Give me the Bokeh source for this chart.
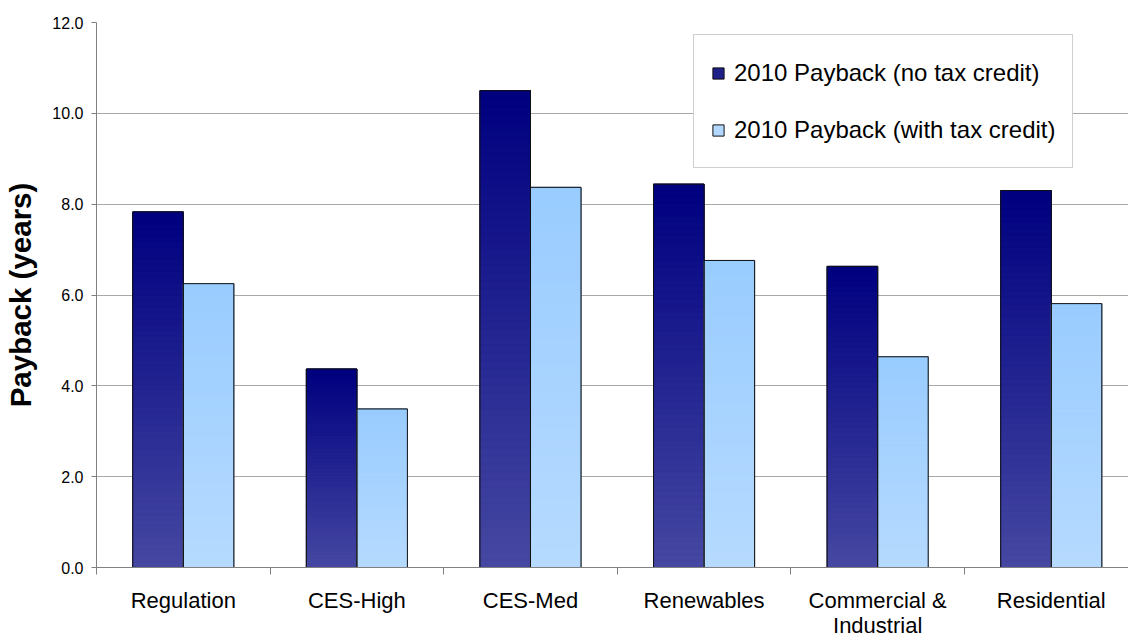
from bokeh.plotting import figure
from bokeh.models import ColumnDataSource, FixedTicker, Legend, LegendItem, Range1d
from bokeh.embed import file_html
from bokeh.resources import INLINE

# ---- data ----
categories = ["Regulation", "CES-High", "CES-Med", "Renewables",
              "Commercial &\nIndustrial", "Residential"]
payback_no_credit = [7.83, 4.37, 10.50, 8.44, 6.63, 8.30]
payback_with_credit = [6.25, 3.49, 8.37, 6.76, 4.64, 5.81]
series_names = ["2010 Payback (no tax credit)", "2010 Payback (with tax credit)"]
y_ticks = [0, 2, 4, 6, 8, 10, 12]
y_tick_labels = ["0.0", "2.0", "4.0", "6.0", "8.0", "10.0", "12.0"]

# ---- styles ----
FONT = "Liberation Sans"
dark_top, dark_bottom = (0x00, 0x00, 0x80), (0x46, 0x48, 0xA2)
light_top, light_bottom = (0x99, 0xCC, 0xFF), (0xB6, 0xDA, 0xFF)
legend_fills = ["#1f1f88", "#b3d8ff"]
bar_w = 0.291
n_steps = 60


def mix(c1, c2, t):
    return "#%02x%02x%02x" % tuple(int(round(a + (b - a) * t)) for a, b in zip(c1, c2))


p = figure(width=1128, height=640, output_backend="svg", toolbar_location=None,
           x_range=Range1d(0, 5.945), y_range=Range1d(0, 12),
           min_border_left=96, min_border_right=0, min_border_top=22, min_border_bottom=72)
p.outline_line_color = None
p.background_fill_color = "white"
p.border_fill_color = "white"

series = [(payback_no_credit, dark_top, dark_bottom),
          (payback_with_credit, light_top, light_bottom)]

grad = dict(left=[], right=[], bottom=[], top=[], color=[])
body_renderers = []
for j, (vals, ctop, cbot) in enumerate(series):
    body = dict(left=[], right=[], top=[])
    for i in range(len(categories)):
        center = i + 0.5
        v = vals[i]
        l = center - bar_w if j == 0 else center
        r = l + bar_w
        body["left"].append(l)
        body["right"].append(r)
        body["top"].append(v)
        for k in range(n_steps):
            grad["left"].append(l)
            grad["right"].append(r)
            grad["bottom"].append(v * k / n_steps)
            grad["top"].append(v * (k + 1) / n_steps)
            grad["color"].append(mix(cbot, ctop, (k + 0.5) / n_steps))
    rb = p.quad(left="left", right="right", bottom=0, top="top", source=ColumnDataSource(body),
                fill_color=legend_fills[j], line_color="#111111", line_width=1)
    body_renderers.append((rb, body))

p.quad(left="left", right="right", bottom="bottom", top="top", fill_color="color",
       line_color="color", line_width=1, source=ColumnDataSource(grad))
for rb, body in body_renderers:
    p.quad(left="left", right="right", bottom=0, top="top", source=ColumnDataSource(body),
           fill_color=None, line_color="#111111", line_width=1)

legend = Legend(items=[LegendItem(label=series_names[j], renderers=[body_renderers[j][0]])
                       for j in range(2)],
                location=(597, 399))
legend.label_text_font = FONT
legend.label_text_font_size = "24px"
legend.label_text_color = "#000000"
legend.glyph_width = 14
legend.glyph_height = 14
legend.label_height = 41
legend.label_standoff = 9
legend.spacing = 16
legend.padding = 17
legend.margin = 0
legend.border_line_color = "#a0a0a0"
legend.border_line_width = 1
legend.background_fill_color = "white"
legend.background_fill_alpha = 1
p.add_layout(legend, "center")

# y axis
p.yaxis.ticker = FixedTicker(ticks=y_ticks)
p.yaxis.major_label_overrides = {t: s for t, s in zip(y_ticks, y_tick_labels)}
p.yaxis.major_label_text_font = FONT
p.yaxis.major_label_text_font_size = "16px"
p.yaxis.major_label_text_color = "#000000"
p.yaxis.axis_line_color = "#808080"
p.yaxis.major_tick_line_color = "#808080"
p.yaxis.major_tick_out = 5
p.yaxis.major_tick_in = 0
p.yaxis.minor_tick_line_color = None
p.yaxis.major_label_standoff = 8
p.yaxis.axis_label = "Payback (years)"
p.yaxis.axis_label_text_font = FONT
p.yaxis.axis_label_text_font_style = "bold"
p.yaxis.axis_label_text_font_size = "29.5px"
p.yaxis.axis_label_text_color = "#000000"
p.yaxis.axis_label_standoff = 12

# x axis
centers = [i + 0.5 for i in range(len(categories))]
bounds = [float(i) for i in range(len(categories) + 1)]
p.xaxis.ticker = FixedTicker(ticks=centers, minor_ticks=bounds)
p.xaxis.major_label_overrides = {c: s for c, s in zip(centers, categories)}
p.xaxis.major_label_text_font = FONT
p.xaxis.major_label_text_font_size = "22px"
p.xaxis.major_label_text_line_height = 1.0
p.xaxis.major_label_text_color = "#000000"
p.xaxis.axis_line_color = "#808080"
p.xaxis.major_tick_line_color = None
p.xaxis.major_tick_out = 0
p.xaxis.major_tick_in = 0
p.xaxis.minor_tick_line_color = "#808080"
p.xaxis.minor_tick_out = 7
p.xaxis.minor_tick_in = 0
p.xaxis.major_label_standoff = 13

p.xgrid.grid_line_color = None
p.ygrid.ticker = FixedTicker(ticks=y_ticks)
p.ygrid.grid_line_color = "#a8a8a8"
p.ygrid.grid_line_width = 1

open("out.html", "w").write(file_html(p, INLINE))
